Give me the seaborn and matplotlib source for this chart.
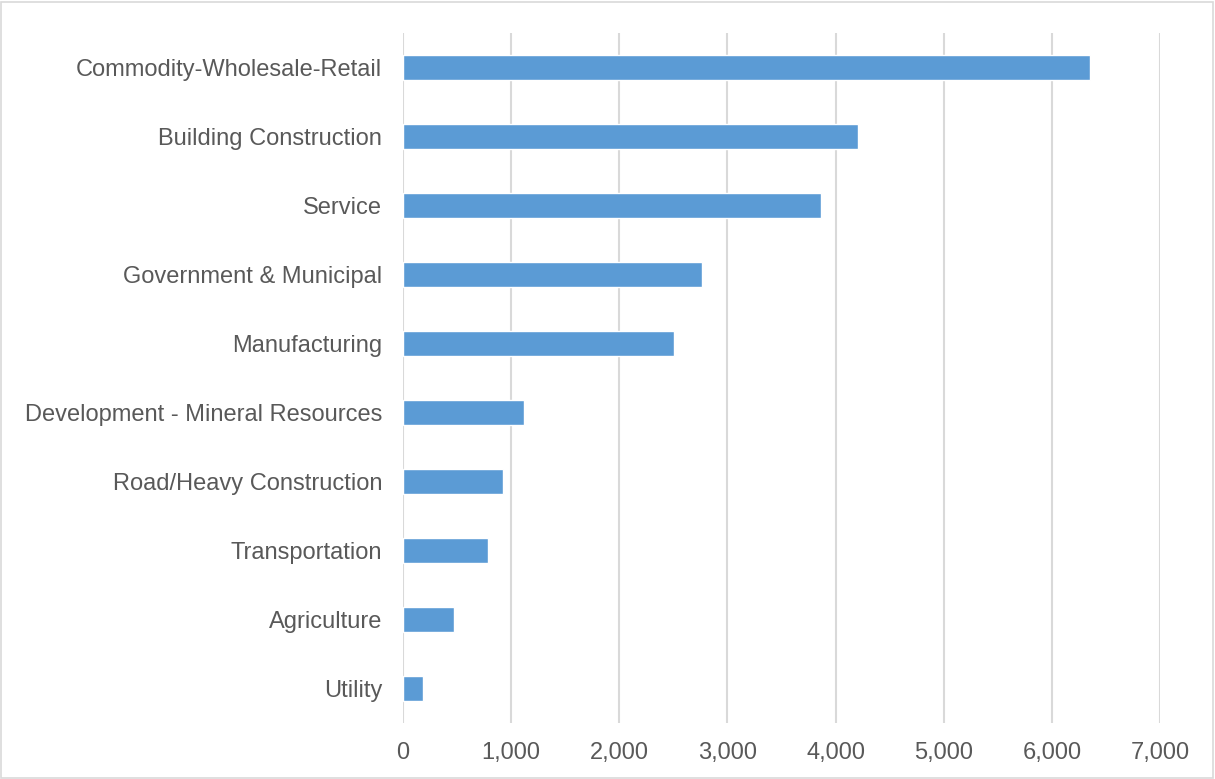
import matplotlib
matplotlib.use("Agg")
import matplotlib.pyplot as plt
import seaborn as sns
import pandas as pd
from matplotlib.ticker import FuncFormatter

# Data
categories = [
    "Commodity-Wholesale-Retail",
    "Building Construction",
    "Service",
    "Government & Municipal",
    "Manufacturing",
    "Development - Mineral Resources",
    "Road/Heavy Construction",
    "Transportation",
    "Agriculture",
    "Utility",
]
counts = [6355, 4210, 3865, 2768, 2503, 1122, 929, 787, 471, 189]
x_ticks = [0, 1000, 2000, 3000, 4000, 5000, 6000, 7000]

df = pd.DataFrame({"Category": categories, "Count": counts})

sns.set_theme(style="white")
plt.rcParams["font.family"] = ["Liberation Sans", "DejaVu Sans"]

fig = plt.figure(figsize=(12.15, 7.79), dpi=100)
ax = fig.add_axes([403 / 1215, 1 - 723 / 779, (1160 - 403) / 1215, (723 - 33) / 779])

sns.barplot(data=df, x="Count", y="Category", orient="h", color="#5B9BD5",
            saturation=1, width=0.36, ax=ax, zorder=3)

ax.set_xlim(0, 7000)
ax.set_ylim(len(categories) - 0.5, -0.5)
ax.set_xticks(x_ticks)
ax.xaxis.set_major_formatter(FuncFormatter(lambda v, p: f"{int(v):,}"))
ax.grid(axis="x", color="#D9D9D9", linewidth=1.5, zorder=0)
ax.grid(axis="y", visible=False)
for s in ax.spines.values():
    s.set_visible(False)

ax.set_xlabel("")
ax.set_ylabel("")
ax.tick_params(axis="x", length=0, pad=14, labelsize=17, labelcolor="#595959")
ax.tick_params(axis="y", length=0, pad=15, labelsize=17, labelcolor="#595959")

# thin light border around the whole chart area
fig.patches.append(plt.Rectangle((0.001, 0.001), 0.997, 0.996, transform=fig.transFigure,
                                 fill=False, edgecolor="#D9D9D9", linewidth=1.2))

fig.savefig("out.png", dpi=100)
